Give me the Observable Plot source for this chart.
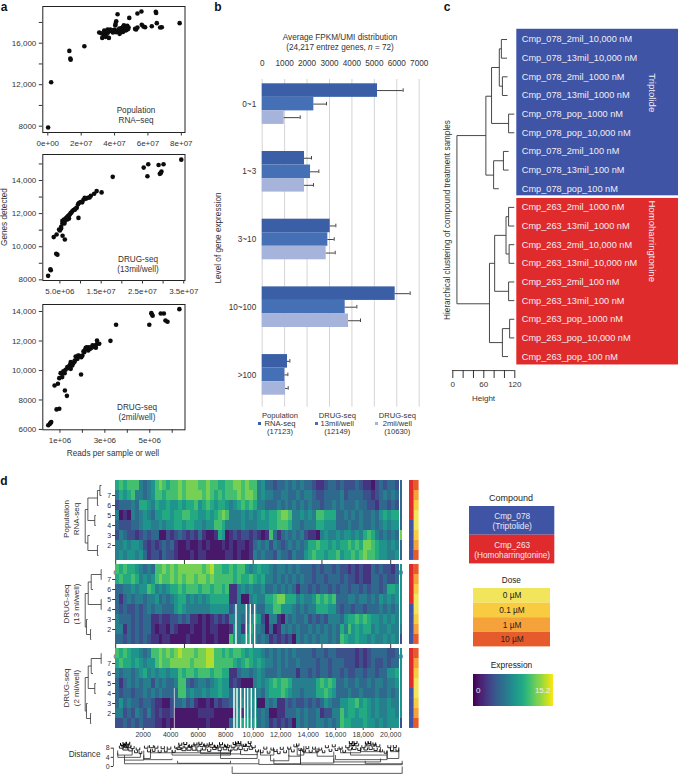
<!DOCTYPE html>
<html>
<head>
<meta charset="utf-8">
<script src="https://cdn.jsdelivr.net/npm/d3@7"></script>
<script src="https://cdn.jsdelivr.net/npm/@observablehq/plot@0.6"></script>
<style>
html,body{margin:0;padding:0;background:#fff}
#page{position:relative;width:678px;height:774px;overflow:hidden;font-family:"Liberation Sans",Arial,sans-serif;color:#333}
#page svg{position:absolute;background:transparent;overflow:visible;max-width:none}
.lab{position:absolute;white-space:nowrap;line-height:1.2;text-align:center}
</style>
</head>
<body>
<div id="page"></div>
<script>
/* ---------- panel a: reads (sample or well) vs genes detected ---------- */
const popReads =[.02,.20,1.29,1.35,1.37,2.19,3.08,3.20,3.26,3.34,3.40,3.46,3.38,3.66,3.58,3.74,3.82,3.90,3.98,4.04,4.10,4.06,4.18,4.14,4.22,4.30,4.38,4.46,4.52,4.56,4.62,4.70,4.76,4.84,4.88,4.34,4.50,4.66,5.23,5.29,5.37,5.37,5.61,5.63,5.73,5.83,6.23,6.47,6.49,6.53,6.73,6.83,7.90,3.5,3.6,3.7,3.85,3.95,4.1,4.2,4.28,4.42,4.48,4.55,4.6,4.72,4.8];
const popGenes =[7880,12240,15260,14520,14400,15710,17030,16960,16510,16830,17000,16610,17220,16510,17320,17320,17160,17030,17280,17700,18120,17860,18790,17220,17090,16900,17220,17380,17570,17730,17540,17280,17670,17510,18440,17030,17090,17220,17380,17320,17510,18860,19050,17770,17600,17540,17640,19020,18920,17930,17510,17540,17930,16800,17000,17200,17250,17100,17050,17200,17400,17450,17300,17600,17400,17500,17350];
const d13Reads =[34.4,30.1,28.9,26.4,25.3,26.2,29.6,29.4,29.2,17.8,15.1,13.9,13.3,12.5,11.8,11.3,10.7,10.4,9.6,9.4,9.1,8.6,8.0,7.6,7.2,6.8,6.4,6.0,5.6,6.8,7.2,9.5,6.1,5.6,5.3,4.8,5.3,5.0,5.65,6.2,4.2,3.5,2.7,2.8,2.15,4.1,4.4,5.9,6.6,7.4,8.3,8.8,10,11,12.2,6.2,7,7.8];
const d13Genes =[15260,14980,14940,14980,14780,14260,14540,14440,14400,14220,13280,13360,13200,13080,12960,12900,12840,12680,12640,12560,12360,12240,12140,12040,11900,11800,11700,11640,11560,11640,11700,11740,11400,11400,11200,11040,11100,10980,10660,10440,10740,10580,8640,8580,8240,9580,9520,11500,11750,11950,12220,12300,12700,12950,12980,11550,11850,12060];
const d2Reads =[6.32,5.07,5.10,5.13,5.49,5.63,5.70,5.79,4.98,3.50,3.25,2.65,2.75,2.65,2.57,2.60,2.45,2.41,2.26,2.15,2.12,2.08,2.0,1.93,1.81,1.70,1.66,1.78,1.48,1.45,1.40,1.48,1.33,1.25,1.21,1.10,1.03,1.10,.97,.91,.76,1.94,1.22,1.31,.97,.85,.61,.58,.55,.48,1.55,1.6,2.2,2.3,1.15,1.35,1.5,1.65,1.75,1.85,1.95,2.05,2.35,2.5];
const d2Genes =[14160,13890,13800,13710,13860,13860,13390,13300,13100,13100,12010,11790,11810,12030,11700,11540,11700,11540,11360,11540,11400,11240,11020,10950,11020,10950,10680,10790,10570,10400,10270,10110,10230,10050,9820,9820,9820,9550,9480,9100,8980,9730,8640,8280,7400,7360,6500,6430,6380,6290,10340,10500,11580,11580,9950,10150,10450,10600,10850,11000,10900,11300,11480,11620];

/* ---------- panel b: expression bins ---------- */
const bins =["0~1","1~3","3~10","10~100",">100"];
const seriesIds =["pop","m13","m2"];
const seriesColors =["#3a5fa6","#4670b6","#a6b4dc"];
const popBars =[5141,1887,3031,5929,1129];
const popErr  =[6285,2199,3284,6597,1233];
const m13Bars =[2303,2155,2927,3700,1010];
const m13Err  =[2868,2526,3210,4220,1144];
const m2Bars  =[981,1887,2853,3848,1040];
const m2Err   =[1694,2288,3254,4383,1159];

/* ---------- panel c: samples and their clustering ---------- */
const samples =["Cmp_078_2mil_10,000 nM","Cmp_078_13mil_10,000 nM","Cmp_078_2mil_1000 nM","Cmp_078_13mil_1000 nM","Cmp_078_pop_1000 nM","Cmp_078_pop_10,000 nM","Cmp_078_2mil_100 nM","Cmp_078_13mil_100 nM","Cmp_078_pop_100 nM","Cmp_263_2mil_1000 nM","Cmp_263_13mil_1000 nM","Cmp_263_2mil_10,000 nM","Cmp_263_13mil_10,000 nM","Cmp_263_2mil_100 nM","Cmp_263_13mil_100 nM","Cmp_263_pop_1000 nM","Cmp_263_pop_10,000 nM","Cmp_263_pop_100 nM"];
/* merge: height, child row A, A's end height, child row B, B's end height */
const sampleTree =[[94,0,105,1,105],[96,2,106,3,106],[90,.5,94,2.5,96],[108,4,119,5,119],[75,1.5,90,4.5,108],[98,6,108,7,108],[79,6.5,98,8,89],[64,3.04,75,7.27,79],[108,9,119,10,119],[109,11,119,12,119],[103,9.5,108,11.5,109],[108,13,119,14,119],[81,10.5,103,13.5,108],[110,15,119,16,119],[96,15.5,110,17,107],[71,12,81,16.25,96],[8,5.15,64,14.17,71]];

/* ---------- panel d: heatmaps, digits 0-9 on the viridis scale, one string per row ---------- */
const popRows =[
"67677 74345 78767 78788 87787 76677 88787 74533 23343 43433 21123 32322 23211 02323 32",
"46567 44345 77677 78788 88787 67677 78788 74544 33443 34344 32233 33423 33322 12343 43",
"23334 36654 65565 56566 75676 56654 56767 64433 34343 43434 33233 43433 34332 21332 32",
"40104 34543 55665 66776 65565 67874 44545 45656 67887 44545 47766 63343 43433 43565 66",
"32223 34554 45455 66566 55455 77644 44544 45556 67776 44344 46655 53334 33433 43454 55",
"24322 12323 30021 23212 13100 16501 21221 21017 31343 43421 10454 45455 45467 64343 43",
"44545 54212 12323 10010 01010 00101 01101 34342 43234 34346 67665 65667 67688 76554 54",
"45455 45312 21322 10001 01100 00011 01001 43433 24332 43356 76656 67566 76787 76554 45"];
const m13Rows =[
"76766 54343 77878 78888 88789 77667 67754 56554 34434 34333 23233 23221 21211 32322 13",
"67667 64545 78778 78788 78878 77777 67667 65644 34343 43433 23323 33232 21211 33232 23",
"33445 45576 45456 67677 76776 77671 14545 44533 43434 31332 32332 32332 33232 33236 65",
"31343 44344 53434 56645 45456 66661 14004 54466 78866 64544 57676 73334 43443 43545 45",
"32322 32343 44333 56544 44445 55552 34443 43355 77555 43434 46665 53233 23323 33434 34",
"43332 32331 12112 23231 10101 21214 44345 65204 41043 43342 32324 44356 67676 55454 54",
"44132 32331 01102 10001 00101 10001 54156 44303 01434 34334 34343 43647 56566 45445 44",
"33232 32321 10110 00010 00100 10007 54565 43431 21212 04343 43443 43765 56554 54454 54"];
const m2Rows =[
"76765 54347 78787 89888 78899 77676 77656 55434 34343 43333 23323 32222 21212 33332 23",
"67665 65455 78778 88887 88899 77777 65676 56544 34343 34333 32332 33322 21212 32232 33",
"43443 45645 45545 57677 67776 77661 13443 45433 34333 31332 32332 33232 23323 32335 56",
"31343 43442 43433 47732 34434 56551 21000 45456 76776 44444 46767 63343 34334 34434 45",
"32332 33434 34333 37745 44545 56553 54445 44356 66765 44344 46676 53334 33433 34334 34",
"35343 32332 11002 33423 10010 21223 54545 50043 41132 32232 32354 33556 67565 45445 44",
"44232 43242 12112 00000 01111 00000 45154 53430 01133 34343 34122 44756 65665 45445 54",
"22323 23222 11010 00000 00010 00003 55665 63431 21212 04343 34434 34766 55565 54545 55"];
/* the thin stand-alone column at the far right of each heatmap */
const popExtra =[3,3,3,3,3,8,3,3];
const m13Extra =[5,5,5,5,5,5,4,2];
const m2Extra  =[5,5,5,5,5,5,5,2];
/* gene positions with no data in the lower rows (white stripes) */
const m13Missing =[8785,9537,9827,10143];
const m2Missing  =[8640,8858,9124,9415,9633,9900,10192];
const m2FaintMissing =[4300];
const rowLabels =[null,7,6,5,4,3,2,null];
const compoundByRow =["Cmp_263","Cmp_263","Cmp_263","Cmp_263","Cmp_078","Cmp_078","Cmp_078","Cmp_078"];
const doseByRow =["10 µM","1 µM","0.1 µM","0 µM","0 µM","0.1 µM","1 µM","10 µM"];
const compoundColor ={Cmp_078:"#3f54a5",Cmp_263:"#e02b2d"};
const doseColor ={"0 µM":"#f1e65b","0.1 µM":"#f9cb40","1 µM":"#f6a23a","10 µM":"#e65b2b"};
const compoundLegend =["Cmp_078\n(Triptolide)","Cmp_263\n(Homoharringtonine)"];
const doseLegend =["0 µM","0.1 µM","1 µM","10 µM"];
const popRowTree =[[91,0,100,1,100],[77,.5,91,2,83],[62,3,68,4,68],[23,1.25,77,3.5,62],[77,6,83,7,83],[23,5,34,6.5,77],[8,2.4,23,5.75,23]];
const m13RowTree =[[98,0,100,1,100],[42,.5,98,2,52],[98,3,100,4,100],[25,1.25,42,3.5,98],[38,6,42,7,42],[15,5,22,6.5,38],[8,2.4,25,5.75,15]];
const m2RowTree =[[98,0,100,1,100],[42,.5,98,2,52],[62,3,68,4,68],[25,1.25,42,3.5,62],[38,6,42,7,42],[15,5,22,6.5,38],[8,2.4,25,5.75,15]];
/* gene dendrogram: gene from, gene to, distance of the joining bar, distance reached by the arms */
const geneBrackets =[[8470,20836,-3,0],[640,10410,1.2,3.3],[4500,8350,1.4,2.5],[640,2040,2.8,5],[140,1200,5,7],[150,1800,4,6],[2040,2530,3.5,7],[2530,8350,6,7.5],[4100,8350,5,7],[6170,8350,5.7,7.2],[7622,10290,3.5,5.5],[7622,9080,5.5,7],[9080,10290,5.2,7],[11500,13440,1.2,3.5],[11260,12590,2.5,5],[10530,11500,5,7.5],[12590,13440,4.5,8],[13200,13680,5,9],[13440,20836,.8,1.5],[18150,20836,1.2,2.5],[15860,19260,2,3.5],[14650,15860,4.5,6.5],[15980,19740,3,5],[17075,19740,5,6.5],[19740,20590,3.5,7],[19985,20590,6.5,8.5],[13680,14650,6,8],[16350,17800,6,8],[17800,19260,6.5,8.5],[13440,15860,1.5,4.5],[10410,13440,.9,1.2],[2040,4100,3,3.5]];
/* small leaf-level joins: gene, span, distance */
const geneLeaves =[[420,150,8],[560,120,8.6],[700,180,7.2],[820,140,9],[950,160,8.4],[1080,130,6.8],[1220,120,7.8],[1480,110,6],[1620,130,7.2],[1800,100,5.6],[2220,130,8],[2420,110,6.4],[2600,140,8.2],[2760,100,6.6],[2950,120,8],[3200,110,6.2],[3420,120,7.8],[3640,100,6.4],[3880,130,7.6],[4220,110,6.2],[4420,130,8],[4600,150,7.4],[4780,130,8],[4960,150,6.9],[5140,120,8.1],[5330,150,7.1],[5500,130,8.6],[5700,140,7.1],[5880,120,8.5],[6060,150,6.8],[6250,130,8.7],[6430,120,7.2],[6620,140,8.5],[6800,120,6.6],[7000,150,8.4],[7180,130,7.4],[7380,140,8.1],[7560,120,6.9],[7750,150,8.4],[7950,130,7.3],[8130,140,8.3],[8330,130,6.8],[8540,150,8.4],[8720,130,7.2],[8900,150,9],[9080,130,7.4],[9280,150,8.9],[9460,120,6.9],[9650,150,8.8],[9830,130,7.5],[10020,130,8.2],[10280,110,6.4],[10620,100,6],[10880,110,7.6],[11120,100,5.8],[11380,90,7.2],[11620,110,6.6],[11860,100,5.6],[12080,110,7.5],[12320,100,6],[12620,110,7.6],[12880,100,6.4],[13060,100,8.6],[13240,90,9],[13420,100,7],[13700,110,6.4],[13940,100,7.8],[14180,110,6.2],[14420,100,7.6],[14660,110,6.4],[14880,100,7.2],[15120,90,6],[15360,110,8.2],[15620,100,6.6],[15860,110,8.6],[16060,100,7],[16360,110,7.6],[16620,100,6.2],[16860,130,8.2],[17020,130,7.2],[17180,150,9],[17350,130,7.4],[17530,140,9],[17720,120,7],[18020,120,8.2],[18180,130,7.2],[18360,150,9],[18540,120,7.4],[18720,140,8.9],[18900,120,7],[19080,130,8.6],[19300,100,6.4],[19620,100,5.8],[19900,110,8.2],[20100,120,7],[20300,110,8.3],[20480,100,6.8]];
/* second tier of the dense clumps */
const geneDense =[[480,130,9.2],[640,110,9.6],[780,120,8.2],[900,120,9.7],[4700,110,9.3],[5060,110,9.6],[5420,110,8.4],[5800,110,9.4],[6160,110,9.7],[6540,110,9],[6920,110,9.5],[7300,110,8.4],[7660,110,9.5],[8040,110,8.8],[8640,100,9.6],[8820,110,9.9],[9000,100,10],[9370,100,8.8],[9740,100,10],[17100,110,10],[17270,100,9.2],[17440,110,10],[18270,110,9.8],[18450,100,10],[18810,100,9.4]];

/* ---------- helpers ---------- */
const page=document.getElementById("page");
const FONT='"Liberation Sans",Arial,sans-serif';
function place(svg,left,top){svg.style.left=left+"px";svg.style.top=top+"px";page.appendChild(svg);return svg;}
function label(html,x,y,o={}){
  const d=document.createElement("div");d.className="lab";d.innerHTML=html;
  const a=o.anchor==="start"?"0":o.anchor==="end"?"-100%":"-50%";
  d.style.left=x+"px";d.style.top=y+"px";d.style.fontSize=(o.size||8)+"px";
  d.style.color=o.color||"#333";if(o.bold)d.style.fontWeight="bold";
  if(o.lh)d.style.lineHeight=o.lh+"px";
  d.style.transform=`translate(${a},-50%)`+(o.rotate?` rotate(${o.rotate}deg)`:"");
  page.appendChild(d);return d;
}
function treeLinks(merges){
  return merges.flatMap(([h,a,ea,b,eb])=>[{x1:h,x2:ea,y1:a,y2:a},{x1:h,x2:eb,y1:b,y2:b},{x1:h,x2:h,y1:a,y2:b}]);
}
const style={fontFamily:FONT,fontSize:"8px",color:"#333",background:"transparent"};

/* ---------- panel a ---------- */
function scatter(o){
  const ys=o.yTicks,xs=o.xTicks;
  return place(Plot.plot({
    width:186,height:o.h+22,marginLeft:42.3,marginRight:1.5,marginTop:2,marginBottom:20,style,
    x:{domain:o.xDomain},y:{domain:o.yDomain},
    marks:[
      Plot.frame({stroke:"#222",strokeWidth:1}),
      Plot.axisX({ticks:xs,tickFormat:(d,i)=>o.xLabels[xs.indexOf(d)],tickSize:3.5,tickPadding:4,label:null,color:"#333"}),
      Plot.axisY({ticks:ys,tickFormat:d=>o.yLabels.includes(d)?(d>=10000?d3.format(",")(d):String(d)):"",tickSize:3.5,tickPadding:3,label:null,color:"#333"}),
      Plot.dot(o.reads,{x:d=>d,y:(d,i)=>o.genes[i],r:2.3,fill:"#0c0c0c",stroke:null})
    ]}),0,o.top-2);
}
scatter({top:6,h:126,reads:popReads,genes:popGenes,xDomain:[-.3,8.22],yDomain:[7393,19537],
  xTicks:[0,2,4,6,8],xLabels:["0e+00","2e+07","4e+07","6e+07","8e+07"],
  yTicks:[8000,10000,12000,14000,16000,18000],yLabels:[8000,12000,16000]});
scatter({top:154,h:126,reads:d13Reads,genes:d13Genes,xDomain:[.86,35.3],yDomain:[7960,15570],
  xTicks:[5,10,15,20,25,30,35],xLabels:["5.0e+06","","1.5e+07","","2.5e+07","","3.5e+07"],
  yTicks:[8000,9000,10000,11000,12000,13000,14000,15000],yLabels:[8000,10000,12000,14000]});
scatter({top:304,h:125.3,reads:d2Reads,genes:d2Genes,xDomain:[.236,6.57],yDomain:[5977,14475],
  xTicks:[1,2,3,4,5,6],xLabels:["1e+06","","3e+06","","5e+06",""],
  yTicks:[6000,8000,10000,12000,14000],yLabels:[6000,8000,10000,12000,14000]});
label("Population<br>RNA–seq",136,115.5,{size:8.2,lh:10});
label("DRUG-seq<br>(13mil/well)",138,265,{size:8.2,lh:10});
label("DRUG-seq<br>(2mil/well)",137,413,{size:8.2,lh:10});
label("Genes detected",4.5,217,{size:8.2,rotate:-90});
label("Reads per sample or well",113,454,{size:8.2});
label("a",4,7,{size:12,bold:true,color:"#111"});
label("b",218,7,{size:12,bold:true,color:"#111"});
label("c",447,7,{size:12,bold:true,color:"#111"});
label("d",4,481,{size:12,bold:true,color:"#111"});

/* ---------- panel b ---------- */
const barRows=bins.flatMap((b,i)=>[
  {key:b+"|pop",value:popBars[i],err:popErr[i],fill:seriesColors[0]},
  {key:b+"|m13",value:m13Bars[i],err:m13Err[i],fill:seriesColors[1]},
  {key:b+"|m2",value:m2Bars[i],err:m2Err[i],fill:seriesColors[2]}]);
const barKeys=bins.flatMap((b,i)=>[...seriesIds.map(s=>b+"|"+s),...(i<bins.length-1?[b+"|gap1",b+"|gap2"]:[])]);
place(Plot.plot({
  width:215,height:420,marginLeft:46.7,marginRight:11.3,marginTop:79,marginBottom:13.3,style,
  x:{domain:[0,7000]},
  y:{type:"band",domain:barKeys,range:[83.3,394.7],padding:0,round:false},
  color:{type:"identity"},
  marks:[
    Plot.gridX({ticks:d3.range(0,7001,1000),stroke:"#d4d4d8",strokeOpacity:1,strokeWidth:1}),
    Plot.axisX({anchor:"top",ticks:d3.range(0,7001,1000),tickSize:0,tickPadding:14,label:null,color:"#333",fontSize:8.2,tickFormat:d=>String(d)}),
    Plot.axisY({ticks:bins.map(b=>b+"|m13"),tickFormat:d=>d.split("|")[0],tickSize:0,tickPadding:6,label:null,color:"#333",fontSize:8.2}),
    Plot.barX(barRows,{x:"value",y:"key",fill:"fill"}),
    Plot.ruleY(barRows,{y:"key",x1:"value",x2:"err",stroke:"#444",strokeWidth:1}),
    Plot.tickX(barRows,{x:"err",y:"key",stroke:"#444",strokeWidth:1,insetTop:5,insetBottom:5})
  ]}),215,0);
label("Average FPKM/UMI distribution",340,37.7,{size:8.2});
label("(24,217 entrez genes, <i>n</i> = 72)",340,47.7,{size:8.2});
label("Level of gene expression",218.5,238,{size:8.2,rotate:-90});
[["Population<br>RNA-seq<br>(17123)",280,259.7,0],["DRUG-seq<br>13mil/well<br>(12149)",337.3,316.7,1],["DRUG-seq<br>2mil/well<br>(10630)",397.3,376.7,2]].forEach(([t,cx,sx,i])=>{
  label(t,cx,423.7,{size:7.6,lh:8.2});
  const s=document.createElement("div");
  s.style.cssText=`position:absolute;left:${sx-1.5}px;top:422.2px;width:3px;height:3px;background:${seriesColors[i]}`;
  page.appendChild(s);
});

/* ---------- panel c ---------- */
const sampleGroups=[{y1:-.55,y2:8.38,fill:"#3f54a5",name:"Triptolide",mid:3.9},{y1:8.52,y2:17.45,fill:"#e02b2d",name:"Homoharringtonine",mid:13}];
place(Plot.plot({
  width:163,height:400,marginLeft:1.3,marginRight:0,marginTop:0,marginBottom:0,style,
  x:{domain:[0,1],axis:null},y:{domain:[-.5,17.5],range:[29.7,365.4],axis:null},
  color:{type:"identity"},
  marks:[
    Plot.rect(sampleGroups,{y1:"y1",y2:"y2",fill:"fill"}),
    Plot.text(samples,{y:(d,i)=>i,text:d=>d,frameAnchor:"left",dx:5,fill:"#f1eef4",fontSize:9.2,textAnchor:"start"}),
    Plot.text(sampleGroups,{y:"mid",text:"name",frameAnchor:"right",dx:-26,fill:"#f1eef4",fontSize:9.6,rotate:90})
  ]}),515.4,0);
place(Plot.plot({
  width:75,height:410,marginLeft:7.3,marginRight:5.7,marginTop:20,marginBottom:40,style,
  x:{domain:[0,120]},y:{domain:[-.5,17.5],range:[29.7,365.4],axis:null},
  marks:[
    Plot.link(treeLinks(sampleTree),{x1:"x1",x2:"x2",y1:"y1",y2:"y2",stroke:"#333",strokeWidth:.9}),
    Plot.ruleY([17.75],{x1:0,x2:120,stroke:"#333",strokeWidth:.9}),
    Plot.axisX({ticks:[0,20,40,60,80,100,120],tickFormat:d=>[0,60,120].includes(d)?String(d):"",tickSize:8,tickPadding:3,label:null,color:"#333"})
  ]}),445,0);
label("Hierarchical clustering of compound treatment samples",447.5,219.5,{size:8.2,rotate:-90});
label("Height",483.5,399,{size:8});

/* ---------- panel d ---------- */
const GENE_MAX=20618, BIN=GENE_MAX/72;
function heatmap(rows,extra,missing,faint,top,withAxis){
  const cells=rows.flatMap((r,y)=>[...r.replace(/ /g,"")].map((c,i)=>({x1:i*BIN,x2:(i+1)*BIN,y1:y-.5,y2:y+.5,v:+c})));
  const extraCells=extra.map((v,y)=>({x1:20735,x2:20858,y1:y-.5,y2:y+.5,v}));
  const holes=missing.map(g=>({x1:g-50,x2:g+50,y1:3.5,y2:7.5}));
  const faintHoles=faint.map(g=>({x1:g-35,x2:g+35,y1:3.5,y2:7.5}));
  place(Plot.plot({
    width:420,height:104,marginLeft:115.2,marginRight:18,marginTop:6,marginBottom:18,style,
    x:{domain:[0,20858]},y:{domain:[7.5,-.5]},
    color:{type:"linear",domain:[-.7,10.3],scheme:"viridis"},
    marks:[
      Plot.rect(cells,{x1:"x1",x2:"x2",y1:"y1",y2:"y2",fill:"v",shapeRendering:"crispEdges",imageFilter:"blur(0.55px)"}),
      Plot.rect(extraCells,{x1:"x1",x2:"x2",y1:"y1",y2:"y2",fill:"v",shapeRendering:"crispEdges"}),
      Plot.rect(holes,{x1:"x1",x2:"x2",y1:"y1",y2:"y2",fill:"white"}),
      Plot.rect(faintHoles,{x1:"x1",x2:"x2",y1:"y1",y2:"y2",fill:"white",fillOpacity:.7}),
      Plot.axisY({ticks:[1,2,3,4,5,6],tickFormat:i=>String(rowLabels[i]),tickSize:3,tickPadding:1.5,label:null,color:"#333",fontSize:7}),
      withAxis?Plot.axisX({ticks:d3.range(2000,20001,2000),tickFormat:d=>d>=10000?d3.format(",")(d):String(d),tickSize:2,tickPadding:2,label:null,color:"#333",fontSize:7}):null
    ]}),0,top-6);
  const cols=compoundByRow.map((c,r)=>({col:"compound",r,fill:compoundColor[c]})).concat(doseByRow.map((d,r)=>({col:"dose",r,fill:doseColor[d]})));
  place(Plot.plot({
    width:9.6,height:80,margin:0,style,
    x:{type:"band",domain:["compound","dose"],axis:null,padding:0,round:false},
    y:{type:"band",domain:d3.range(8),axis:null,padding:0,round:false},
    color:{type:"identity"},
    marks:[Plot.cell(cols,{x:"col",y:"r",fill:"fill"})]}),408.7,top);
}
function rowTree(merges,top){
  place(Plot.plot({
    width:25,height:104,marginLeft:3.3,marginRight:4,marginTop:6,marginBottom:18,style,
    x:{domain:[0,100],axis:null},y:{domain:[7.5,-.5],axis:null},
    marks:[Plot.link(treeLinks(merges),{x1:"x1",x2:"x2",y1:"y1",y2:"y2",stroke:"#333",strokeWidth:.8})]}),80,top-6);
}
heatmap(popRows,popExtra,[],[],480.3,false);
heatmap(m13Rows,m13Extra,m13Missing,[],564.3,false);
heatmap(m2Rows,m2Extra,m2Missing,m2FaintMissing,648.3,true);
rowTree(popRowTree,480.3);rowTree(m13RowTree,564.3);rowTree(m2RowTree,648.3);
label("Population<br>RNA-seq",70.5,519,{size:8,rotate:-90,lh:9.5});
label("DRUG-seq<br>(13 ml/well)",70.5,604,{size:8,rotate:-90,lh:9.5});
label("DRUG-seq<br>(2 ml/well)",70.5,688,{size:8,rotate:-90,lh:9.5});

/* gene dendrogram */
const bracketLinks=list=>list.flatMap(([a,b,base,tip])=>[
  {x1:a,x2:b,y1:base,y2:base},{x1:a,x2:a,y1:base,y2:tip},{x1:b,x2:b,y1:base,y2:tip}]);
const tufts=list=>list.map(([g,w,d])=>[g-w,g+w,d,d+1.1]);
const linkOpts={x1:"x1",x2:"x2",y1:"y1",y2:"y2"};
place(Plot.plot({
  width:420,height:40,marginLeft:115.2,marginRight:18,marginTop:0,marginBottom:0,style,
  x:{domain:[0,20858],axis:null},y:{domain:[0,8],range:[28,9.7]},
  marks:[
    Plot.link(bracketLinks(geneBrackets),{...linkOpts,stroke:"#333",strokeWidth:.8}),
    Plot.link(bracketLinks(tufts(geneLeaves)),{...linkOpts,stroke:"#111",strokeWidth:.9}),
    Plot.link(bracketLinks(tufts(geneDense)),{...linkOpts,stroke:"#000",strokeWidth:1}),
    Plot.ruleX([-160],{y1:0,y2:8,stroke:"#333",strokeWidth:.7}),
    Plot.axisY({ticks:[0,4,8],tickSize:2.5,tickPadding:1.5,dx:-2,label:null,color:"#333",fontSize:7})
  ]}),0,738);
label("Distance",100.5,755.3,{size:8.2,anchor:"end"});

/* legends */
label("Compound",511,497.7,{size:9,color:"#222"});
place(Plot.plot({
  width:85.3,height:57.4,margin:0,style,x:{axis:null,domain:[0,1]},
  y:{type:"band",domain:compoundLegend,padding:0,round:false,axis:null},
  color:{type:"identity"},
  marks:[
    Plot.cell(compoundLegend,{y:d=>d,fill:(d,i)=>i?compoundColor.Cmp_263:compoundColor.Cmp_078}),
    Plot.text(compoundLegend,{y:d=>d,text:d=>d,frameAnchor:"middle",fill:"#ece8f2",fontSize:8.3,lineHeight:1.2})
  ]}),469,506.3);
label("Dose",511.3,581,{size:8.2,color:"#222"});
place(Plot.plot({
  width:77,height:58.4,margin:0,style,x:{axis:null,domain:[0,1]},
  y:{type:"band",domain:doseLegend,padding:0,round:false,axis:null},
  color:{type:"identity"},
  marks:[
    Plot.cell(doseLegend,{y:d=>d,fill:d=>doseColor[d]}),
    Plot.text(doseLegend,{y:d=>d,text:d=>d,frameAnchor:"middle",fill:"#222",fontSize:8.3})
  ]}),473,588.3);
label("Expression",511.5,665,{size:8.4,color:"#222"});
const expressionEnds=[0,15.2];
const expressionSteps=d3.range(expressionEnds[0],expressionEnds[1],.2);
place(Plot.plot({
  width:80.3,height:31.7,margin:0,style,
  x:{domain:expressionEnds,axis:null},
  color:{type:"linear",domain:expressionEnds,scheme:"viridis"},
  marks:[
    Plot.rect(expressionSteps,{x1:d=>d,x2:d=>d+.21,fill:d=>d,shapeRendering:"crispEdges"}),
    Plot.text([.9,13.1],{x:d=>d,text:(d,i)=>String(expressionEnds[i]),frameAnchor:"middle",fill:"#eef0ea",fontSize:8})
  ]}),473,674);
</script>
</body>
</html>
